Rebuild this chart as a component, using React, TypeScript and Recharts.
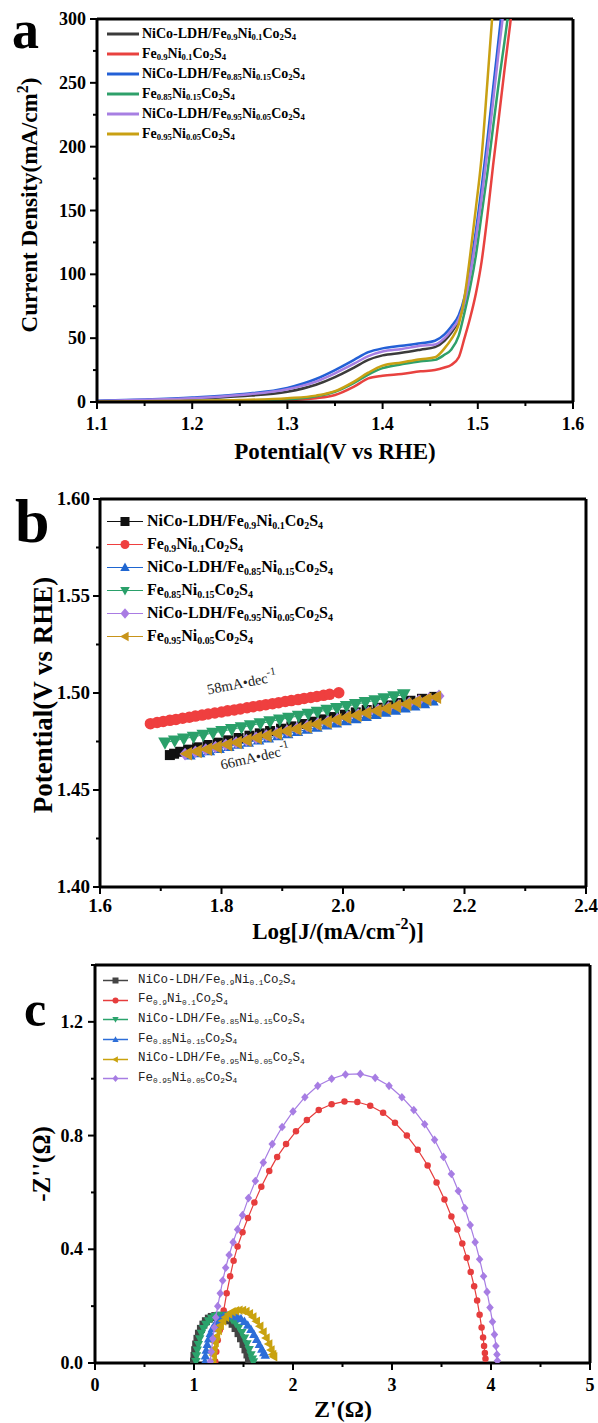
import React from 'react';
import {
  LineChart, Line, XAxis, YAxis, ReferenceLine, Legend,
  ScatterChart, Scatter, ReferenceDot,
} from 'recharts';

const SERIF = '"Liberation Serif", "Times New Roman", serif';
const MONO = '"Liberation Mono", "Courier New", monospace';

// ---------------- Panel a : LSV ----------------
const lsvPotential = [1.10, 1.15, 1.20, 1.25, 1.30, 1.33, 1.35, 1.37, 1.385, 1.40, 1.42, 1.44, 1.455, 1.465, 1.472, 1.48, 1.486, 1.492, 1.498, 1.504, 1.51, 1.516, 1.522, 1.528, 1.534, 1.54];
const lsvLdh09 = [0.6, 1.3, 2.5, 4.5, 8, 13.5, 19.5, 27, 33, 36.5, 38.5, 41, 43, 48, 54, 64, 78, 101, 130, 163, 200, 240, 280, 318, 355, 395];
const lsvFe09 = [0.1, 0.3, 0.5, 0.8, 1.5, 3, 5.5, 12, 18.5, 20.5, 22, 24, 25, 27, 29, 35, 50, 66, 85, 110, 145, 185, 222, 260, 296, 335];
const lsvLdh085 = [1, 2, 3.5, 6, 11, 18, 25, 33, 39, 42, 44, 46, 48, 53, 59, 68, 82, 106, 134, 168, 205, 245, 285, 325, 360, 400];
const lsvFe085 = [0.2, 0.4, 0.8, 1.2, 2.2, 4.5, 8, 15, 21.5, 26.5, 29.5, 32, 33, 37, 41, 52, 70, 90, 115, 147, 179, 215, 250, 282, 315, 350];
const lsvLdh095 = [0.8, 1.7, 3, 5.5, 10, 16, 22.5, 30, 36, 39.5, 41.5, 44, 45, 50, 56, 65, 78, 100, 128, 160, 196, 235, 275, 312, 350, 390];
const lsvFe095 = [0.3, 0.5, 1, 1.5, 3, 5, 8.5, 16, 23, 28.5, 31, 33.5, 35, 42, 49, 61, 82, 115, 152, 192, 250, 310, 360, 400, 440, 480];

const lsvNames = ['NiCo-LDH/Fe0.9Ni0.1Co2S4', 'Fe0.9Ni0.1Co2S4', 'NiCo-LDH/Fe0.85Ni0.15Co2S4', 'Fe0.85Ni0.15Co2S4', 'NiCo-LDH/Fe0.95Ni0.05Co2S4', 'Fe0.95Ni0.05Co2S4'];
const lsvColors = ['#3b3b3b', '#e8423f', '#2360d6', '#2fa06a', '#a77fe2', '#c9a013'];
const lsvCurves = [lsvLdh09, lsvFe09, lsvLdh085, lsvFe085, lsvLdh095, lsvFe095];

const aXTicks = [1.1, 1.15, 1.2, 1.25, 1.3, 1.35, 1.4, 1.45, 1.5, 1.55, 1.6];
const aXMajor = [1.1, 1.2, 1.3, 1.4, 1.5, 1.6];
const aYTicks = [0, 25, 50, 75, 100, 125, 150, 175, 200, 225, 250, 275, 300];
const aYMajor = [0, 50, 100, 150, 200, 250, 300];

// ---------------- Panel b : Tafel ----------------
const tafelLdh09X = [1.715, 1.722, 1.732, 1.745, 1.760, 1.777, 1.794, 1.811, 1.828, 1.846, 1.863, 1.880, 1.898, 1.915, 1.933, 1.950, 1.968, 1.985, 2.003, 2.021, 2.039, 2.057, 2.075, 2.093, 2.111, 2.130, 2.150];
const tafelLdh09Y = [1.4680, 1.4687, 1.4697, 1.4708, 1.4720, 1.4732, 1.4744, 1.4756, 1.4768, 1.4780, 1.4792, 1.4804, 1.4816, 1.4828, 1.4840, 1.4852, 1.4864, 1.4876, 1.4888, 1.4900, 1.4912, 1.4924, 1.4936, 1.4948, 1.4960, 1.4970, 1.4980];
const tafelFe09X = [1.683, 1.694, 1.704, 1.715, 1.725, 1.736, 1.747, 1.757, 1.768, 1.778, 1.789, 1.800, 1.810, 1.821, 1.831, 1.842, 1.852, 1.863, 1.873, 1.884, 1.894, 1.905, 1.915, 1.926, 1.936, 1.947, 1.957, 1.968, 1.978, 1.993];
const tafelFe09Y = [1.4842, 1.4848, 1.4853, 1.4859, 1.4864, 1.4870, 1.4875, 1.4881, 1.4886, 1.4892, 1.4897, 1.4902, 1.4908, 1.4913, 1.4918, 1.4924, 1.4929, 1.4934, 1.4940, 1.4945, 1.4950, 1.4956, 1.4961, 1.4966, 1.4972, 1.4977, 1.4982, 1.4988, 1.4993, 1.5001];
const tafelLdh085X = [1.748, 1.764, 1.780, 1.796, 1.812, 1.828, 1.844, 1.861, 1.877, 1.893, 1.909, 1.925, 1.941, 1.957, 1.973, 1.989, 2.005, 2.021, 2.038, 2.054, 2.070, 2.086, 2.102, 2.118, 2.134, 2.148];
const tafelLdh085Y = [1.4680, 1.4691, 1.4702, 1.4713, 1.4724, 1.4735, 1.4746, 1.4757, 1.4768, 1.4779, 1.4790, 1.4801, 1.4812, 1.4823, 1.4834, 1.4845, 1.4856, 1.4867, 1.4878, 1.4889, 1.4900, 1.4911, 1.4922, 1.4933, 1.4944, 1.4958];
const tafelFe085X = [1.707, 1.723, 1.738, 1.754, 1.770, 1.786, 1.801, 1.817, 1.833, 1.848, 1.864, 1.880, 1.896, 1.911, 1.927, 1.943, 1.958, 1.974, 1.990, 2.006, 2.021, 2.037, 2.053, 2.068, 2.084, 2.100];
const tafelFe085Y = [1.4744, 1.4754, 1.4764, 1.4774, 1.4784, 1.4794, 1.4803, 1.4813, 1.4823, 1.4833, 1.4843, 1.4853, 1.4863, 1.4872, 1.4882, 1.4892, 1.4902, 1.4912, 1.4922, 1.4932, 1.4942, 1.4952, 1.4962, 1.4972, 1.4982, 1.4992];
const tafelLdh095X = [1.740, 1.757, 1.774, 1.790, 1.807, 1.824, 1.841, 1.857, 1.874, 1.891, 1.908, 1.924, 1.941, 1.958, 1.975, 1.991, 2.008, 2.025, 2.042, 2.058, 2.075, 2.092, 2.109, 2.125, 2.142, 2.158];
const tafelLdh095Y = [1.4685, 1.4697, 1.4709, 1.4721, 1.4733, 1.4745, 1.4757, 1.4769, 1.4781, 1.4793, 1.4805, 1.4817, 1.4829, 1.4841, 1.4853, 1.4865, 1.4877, 1.4889, 1.4901, 1.4913, 1.4925, 1.4937, 1.4949, 1.4961, 1.4973, 1.4985];
const tafelFe095X = [1.743, 1.759, 1.776, 1.792, 1.809, 1.825, 1.841, 1.858, 1.874, 1.891, 1.907, 1.923, 1.940, 1.956, 1.973, 1.989, 2.005, 2.022, 2.038, 2.055, 2.071, 2.087, 2.104, 2.120, 2.137, 2.153];
const tafelFe095Y = [1.4687, 1.4699, 1.4710, 1.4722, 1.4734, 1.4745, 1.4757, 1.4769, 1.4780, 1.4792, 1.4804, 1.4815, 1.4827, 1.4839, 1.4850, 1.4862, 1.4874, 1.4885, 1.4897, 1.4908, 1.4920, 1.4932, 1.4943, 1.4955, 1.4967, 1.4978];

const tafelColors = ['#111111', '#ef3f3f', '#1f66d1', '#2aa06a', '#a97be3', '#c8941a'];
const tafelMarkers = ['square', 'circle', 'up', 'down', 'diamond', 'left'];
const tafelSizes = [10, 11.5, 11, 13, 11, 13];
const tafelXs = [tafelLdh09X, tafelFe09X, tafelLdh085X, tafelFe085X, tafelLdh095X, tafelFe095X];
const tafelYs = [tafelLdh09Y, tafelFe09Y, tafelLdh085Y, tafelFe085Y, tafelLdh095Y, tafelFe095Y];
const tafelNotes = ['58mA\u2022dec', '66mA\u2022dec'];

const bXTicks = [1.6, 1.7, 1.8, 1.9, 2.0, 2.1, 2.2, 2.3, 2.4];
const bXMajor = [1.6, 1.8, 2.0, 2.2, 2.4];
const bYTicks = [1.4, 1.425, 1.45, 1.475, 1.5, 1.525, 1.55, 1.575, 1.6];
const bYMajor = [1.4, 1.45, 1.5, 1.55, 1.6];

// ---------------- Panel c : Nyquist ----------------
const eisLdh09X = [1.00, 1.005, 1.012, 1.022, 1.035, 1.05, 1.07, 1.095, 1.12, 1.15, 1.18, 1.215, 1.25, 1.285, 1.32, 1.355, 1.39, 1.42, 1.45, 1.475, 1.5, 1.52, 1.54, 1.555, 1.565];
const eisLdh09Y = [0.005, 0.025, 0.045, 0.065, 0.085, 0.103, 0.12, 0.135, 0.147, 0.156, 0.162, 0.165, 0.166, 0.164, 0.159, 0.15, 0.138, 0.123, 0.105, 0.087, 0.067, 0.048, 0.03, 0.015, 0.005];
const eisFe09X = [1.215, 1.225, 1.24, 1.26, 1.28, 1.30, 1.33, 1.365, 1.40, 1.44, 1.49, 1.545, 1.61, 1.68, 1.76, 1.84, 1.93, 2.03, 2.14, 2.26, 2.39, 2.52, 2.65, 2.78, 2.91, 3.03, 3.15, 3.26, 3.36, 3.45, 3.53, 3.60, 3.66, 3.71, 3.755, 3.795, 3.83, 3.86, 3.885, 3.905, 3.92, 3.93, 3.938, 3.944];
const eisFe09Y = [0.005, 0.04, 0.08, 0.115, 0.15, 0.185, 0.245, 0.305, 0.36, 0.41, 0.46, 0.51, 0.565, 0.62, 0.675, 0.725, 0.77, 0.815, 0.855, 0.89, 0.91, 0.92, 0.918, 0.905, 0.88, 0.845, 0.80, 0.75, 0.695, 0.635, 0.575, 0.515, 0.47, 0.42, 0.37, 0.32, 0.27, 0.22, 0.17, 0.125, 0.09, 0.06, 0.035, 0.015];
const eisLdh085X = [1.02, 1.025, 1.033, 1.044, 1.058, 1.075, 1.095, 1.12, 1.147, 1.177, 1.21, 1.245, 1.28, 1.315, 1.35, 1.385, 1.42, 1.453, 1.483, 1.51, 1.535, 1.557, 1.576, 1.59, 1.6];
const eisLdh085Y = [0.005, 0.025, 0.045, 0.065, 0.085, 0.104, 0.121, 0.136, 0.148, 0.157, 0.163, 0.167, 0.168, 0.166, 0.161, 0.152, 0.14, 0.125, 0.107, 0.088, 0.067, 0.047, 0.029, 0.014, 0.004];
const eisFe085X = [1.11, 1.115, 1.123, 1.134, 1.148, 1.165, 1.185, 1.21, 1.238, 1.268, 1.30, 1.335, 1.37, 1.405, 1.44, 1.475, 1.51, 1.543, 1.575, 1.605, 1.633, 1.66, 1.685, 1.705, 1.72];
const eisFe085Y = [0.005, 0.025, 0.045, 0.065, 0.085, 0.104, 0.121, 0.136, 0.148, 0.157, 0.163, 0.166, 0.168, 0.167, 0.163, 0.156, 0.146, 0.133, 0.118, 0.101, 0.083, 0.065, 0.049, 0.036, 0.028];
const eisLdh095X = [1.19, 1.195, 1.203, 1.214, 1.228, 1.245, 1.266, 1.29, 1.318, 1.35, 1.385, 1.42, 1.455, 1.49, 1.525, 1.56, 1.595, 1.63, 1.665, 1.698, 1.728, 1.755, 1.778, 1.795, 1.805];
const eisLdh095Y = [0.005, 0.028, 0.05, 0.072, 0.094, 0.114, 0.132, 0.148, 0.161, 0.172, 0.18, 0.184, 0.186, 0.185, 0.181, 0.173, 0.162, 0.147, 0.129, 0.109, 0.088, 0.067, 0.046, 0.03, 0.022];
const eisFe095X = [1.165, 1.175, 1.19, 1.205, 1.22, 1.24, 1.265, 1.29, 1.32, 1.355, 1.395, 1.44, 1.49, 1.55, 1.62, 1.70, 1.79, 1.89, 2.00, 2.12, 2.25, 2.39, 2.53, 2.68, 2.83, 2.97, 3.10, 3.22, 3.33, 3.43, 3.52, 3.60, 3.67, 3.735, 3.79, 3.84, 3.885, 3.925, 3.96, 3.99, 4.015, 4.035, 4.05, 4.06, 4.065];
const eisFe095Y = [0.005, 0.04, 0.085, 0.125, 0.16, 0.2, 0.245, 0.29, 0.335, 0.38, 0.425, 0.47, 0.52, 0.58, 0.64, 0.705, 0.77, 0.83, 0.885, 0.935, 0.975, 1.0, 1.015, 1.017, 1.003, 0.975, 0.935, 0.89, 0.84, 0.785, 0.725, 0.665, 0.605, 0.545, 0.485, 0.425, 0.365, 0.305, 0.25, 0.195, 0.145, 0.1, 0.06, 0.03, 0.008];

const eisNames = ['NiCo-LDH/Fe0.9Ni0.1Co2S4', 'Fe0.9Ni0.1Co2S4', 'NiCo-LDH/Fe0.85Ni0.15Co2S4', 'Fe0.85Ni0.15Co2S4', 'NiCo-LDH/Fe0.95Ni0.05Co2S4', 'Fe0.95Ni0.05Co2S4'];
const eisColors = ['#444444', '#e63d3d', '#2ba36c', '#2d6ed8', '#c9a20e', '#a77de3'];
const eisMarkers = ['square', 'circle', 'down', 'up', 'left', 'diamond'];
const eisSizes = [8, 6.5, 9, 9, 9, 7.5];
const eisXs = [eisLdh09X, eisFe09X, eisLdh085X, eisFe085X, eisLdh095X, eisFe095X];
const eisYs = [eisLdh09Y, eisFe09Y, eisLdh085Y, eisFe085Y, eisLdh095Y, eisFe095Y];

const cXTicks = [0, 0.5, 1, 1.5, 2, 2.5, 3, 3.5, 4, 4.5, 5];
const cXMajor = [0, 1, 2, 3, 4, 5];
const cYTicks = [0, 0.2, 0.4, 0.6, 0.8, 1.0, 1.2, 1.4];
const cYMajor = [0, 0.4, 0.8, 1.2];

// ---------------- helpers ----------------
const AXIS_LINE = { stroke: '#000', strokeWidth: 3 };

function Formula({ text }: { text: string }) {
  const parts = text.split(/(\d+(?:\.\d+)?)/);
  return (
    <>
      {parts.map((p, i) =>
        i % 2 === 1 ? (
          <span key={i} style={{ fontSize: '0.62em', position: 'relative', top: '0.32em' }}>{p}</span>
        ) : (
          <span key={i}>{p}</span>
        ),
      )}
    </>
  );
}

function Marker({ kind, cx, cy, s, color }: any) {
  if (cx == null || cy == null) return null;
  const h = s / 2;
  switch (kind) {
    case 'square':
      return <rect x={cx - h} y={cy - h} width={s} height={s} fill={color} />;
    case 'circle':
      return <circle cx={cx} cy={cy} r={h} fill={color} />;
    case 'up':
      return <polygon points={`${cx},${cy - h * 1.1} ${cx + h * 1.05},${cy + h * 0.8} ${cx - h * 1.05},${cy + h * 0.8}`} fill={color} />;
    case 'down':
      return <polygon points={`${cx},${cy + h * 1.1} ${cx + h * 1.05},${cy - h * 0.8} ${cx - h * 1.05},${cy - h * 0.8}`} fill={color} />;
    case 'diamond':
      return <polygon points={`${cx},${cy - h * 1.15} ${cx + h},${cy} ${cx},${cy + h * 1.15} ${cx - h},${cy}`} fill={color} />;
    case 'left':
      return <polygon points={`${cx - h * 1.1},${cy} ${cx + h * 0.8},${cy - h * 1.05} ${cx + h * 0.8},${cy + h * 1.05}`} fill={color} />;
    default:
      return null;
  }
}

function AxisTick(props: any) {
  const { x, y, payload, orient, majors, digits, gap, fs } = props;
  const v = Number(payload?.value);
  const major = majors.some((m: number) => Math.abs(m - v) < 1e-6);
  const style: React.CSSProperties = { fontFamily: SERIF, fontWeight: 700, fontSize: fs || 18, fill: '#000' };
  if (orient === 'bottom') {
    return (
      <g>
        <line x1={x} y1={y} x2={x} y2={y + (major ? 7 : 4)} stroke="#000" strokeWidth={2} />
        {major ? <text x={x} y={y + gap} textAnchor="middle" style={style}>{v.toFixed(digits)}</text> : null}
      </g>
    );
  }
  return (
    <g>
      <line x1={x} y1={y} x2={x - (major ? 7 : 4)} y2={y} stroke="#000" strokeWidth={2} />
      {major ? <text x={x - gap} y={y + 6} textAnchor="end" style={style}>{v.toFixed(digits)}</text> : null}
    </g>
  );
}

function TitleX({ tcx, tbase, tfs, ttl }: any) {
  return (
    <text x={tcx} y={tbase} textAnchor="middle" style={{ fontFamily: SERIF, fontWeight: 700, fontSize: tfs, fill: '#000' }}>
      {ttl}
    </text>
  );
}

function TitleY({ tbx, tcy, tfs, ttl }: any) {
  return (
    <text x={tbx} y={tcy} transform={`rotate(-90 ${tbx} ${tcy})`} textAnchor="middle" style={{ fontFamily: SERIF, fontWeight: 700, fontSize: tfs, fill: '#000' }}>
      {ttl}
    </text>
  );
}

function SlopeNote({ viewBox, note, rot }: any) {
  if (!viewBox) return null;
  const cx = viewBox.x + (viewBox.width || 0) / 2;
  const cy = viewBox.y + (viewBox.height || 0) / 2;
  return (
    <text x={cx} y={cy} textAnchor="middle" transform={`rotate(${rot} ${cx} ${cy})`} style={{ fontFamily: SERIF, fontSize: 14.5, fill: '#222' }}>
      {note}
      <tspan dy={-7} fontSize={11}>-1</tspan>
    </text>
  );
}

function LegendA() {
  return (
    <div style={{ fontFamily: SERIF, fontWeight: 700, fontSize: 14, color: '#000' }}>
      {lsvNames.map((n, i) => (
        <div key={n} style={{ height: 20, display: 'flex', alignItems: 'center', whiteSpace: 'nowrap' }}>
          <svg width={34} height={20} style={{ flex: 'none' }}>
            <line x1={1} y1={10} x2={33} y2={10} stroke={lsvColors[i]} strokeWidth={3} />
          </svg>
          <span style={{ marginLeft: 2, lineHeight: '20px' }}><Formula text={n} /></span>
        </div>
      ))}
    </div>
  );
}

function LegendB() {
  return (
    <div style={{ fontFamily: SERIF, fontWeight: 700, fontSize: 16, color: '#000' }}>
      {lsvNames.map((n, i) => (
        <div key={n} style={{ height: 23, display: 'flex', alignItems: 'center', whiteSpace: 'nowrap' }}>
          <svg width={38} height={23} style={{ flex: 'none' }}>
            <line x1={1} y1={11.5} x2={37} y2={11.5} stroke={tafelColors[i]} strokeWidth={1} />
            <Marker kind={tafelMarkers[i]} cx={19} cy={11.5} s={9} color={tafelColors[i]} />
          </svg>
          <span style={{ marginLeft: 3, lineHeight: '23px' }}><Formula text={n} /></span>
        </div>
      ))}
    </div>
  );
}

function LegendC() {
  return (
    <div style={{ fontFamily: MONO, fontSize: 12.5, color: '#222' }}>
      {eisNames.map((n, i) => (
        <div key={n} style={{ height: 19.6, display: 'flex', alignItems: 'center', whiteSpace: 'nowrap' }}>
          <svg width={27} height={19} style={{ flex: 'none' }}>
            <line x1={1} y1={9.5} x2={26} y2={9.5} stroke={eisColors[i]} strokeWidth={1.5} />
            <Marker kind={eisMarkers[i]} cx={13.5} cy={9.5} s={6} color={eisColors[i]} />
          </svg>
          <span style={{ marginLeft: 9, lineHeight: '19px' }}><Formula text={n} /></span>
        </div>
      ))}
    </div>
  );
}

// ---------------- panels ----------------
function PanelA() {
  const rows = lsvPotential.map((v, i) => {
    const r: any = { v };
    lsvCurves.forEach((c, k) => { r['s' + k] = c[i]; });
    return r;
  });
  return (
    <LineChart width={598} height={470} data={rows} margin={{ top: 19, right: 25, left: 0, bottom: 0 }}>
      <XAxis
        dataKey="v" type="number" domain={[1.1, 1.6]} ticks={aXTicks} interval={0} allowDataOverflow
        height={68} tickSize={0} tickMargin={0} tickLine={false} axisLine={AXIS_LINE}
        tick={<AxisTick orient="bottom" majors={aXMajor} digits={1} gap={28} fs={18} />}
        label={<TitleX tcx={335} tbase={459} tfs={23} ttl="Potential(V vs RHE)" />}
      />
      <YAxis
        type="number" domain={[0, 300]} ticks={aYTicks} interval={0} allowDataOverflow
        width={97} tickSize={0} tickMargin={0} tickLine={false} axisLine={AXIS_LINE}
        tick={<AxisTick orient="left" majors={aYMajor} digits={0} gap={11} fs={18} />}
        label={<TitleY tbx={37} tcy={205} tfs={23} ttl={[
          'Current Density(mA/cm',
          <tspan key="s" dy={-9} fontSize={16}>2</tspan>,
          <tspan key="e" dy={9}>)</tspan>,
        ]} />}
      />
      <ReferenceLine y={300} stroke="#000" strokeWidth={3} />
      <ReferenceLine x={1.6} stroke="#000" strokeWidth={3} />
      {lsvNames.map((n, k) => (
        <Line key={n} dataKey={'s' + k} name={n} type="monotone" stroke={lsvColors[k]} strokeWidth={2.5} dot={false} isAnimationActive={false} />
      ))}
      <Legend
        layout="vertical" align="center" verticalAlign="middle"
        wrapperStyle={{ left: 106, top: 24, width: 'auto', height: 'auto' }}
        content={() => <LegendA />}
      />
    </LineChart>
  );
}

function PanelB() {
  return (
    <ScatterChart width={598} height={480} margin={{ top: 29, right: 12, left: 0, bottom: 0 }}>
      <XAxis
        dataKey="x" type="number" domain={[1.6, 2.4]} ticks={bXTicks} interval={0} allowDataOverflow
        height={63} tickSize={0} tickMargin={0} tickLine={false} axisLine={AXIS_LINE}
        tick={<AxisTick orient="bottom" majors={bXMajor} digits={1} gap={25} fs={19} />}
        label={<TitleX tcx={338} tbase={469} tfs={23} ttl={[
          'Log[J/(mA/cm',
          <tspan key="s" dy={-10} fontSize={16}>-2</tspan>,
          <tspan key="e" dy={10}>)]</tspan>,
        ]} />}
      />
      <YAxis
        dataKey="y" type="number" domain={[1.4, 1.6]} ticks={bYTicks} interval={0} allowDataOverflow
        width={100} tickSize={0} tickMargin={0} tickLine={false} axisLine={AXIS_LINE}
        tick={<AxisTick orient="left" majors={bYMajor} digits={2} gap={10} fs={19} />}
        label={<TitleY tbx={52} tcy={225} tfs={27} ttl="Potential(V vs RHE)" />}
      />
      <ReferenceLine y={1.6} stroke="#000" strokeWidth={3} />
      <ReferenceLine x={2.4} stroke="#000" strokeWidth={3} />
      {lsvNames.map((n, k) => (
        <Scatter
          key={n} name={n}
          data={tafelXs[k].map((x, i) => ({ x, y: tafelYs[k][i] }))}
          fill={tafelColors[k]}
          line={{ stroke: tafelColors[k], strokeWidth: 1 }} lineType="joint"
          shape={(p: any) => <Marker kind={tafelMarkers[k]} cx={p.cx} cy={p.cy} s={tafelSizes[k]} color={tafelColors[k]} />}
          isAnimationActive={false}
        />
      ))}
      <ReferenceDot x={1.835} y={1.5027} r={1} fill="none" stroke="none" label={<SlopeNote note={tafelNotes[0]} rot={-11} />} />
      <ReferenceDot x={1.857} y={1.4645} r={1} fill="none" stroke="none" label={<SlopeNote note={tafelNotes[1]} rot={-13} />} />
      <Legend
        layout="vertical" align="center" verticalAlign="middle"
        wrapperStyle={{ left: 106, top: 40, width: 'auto', height: 'auto' }}
        content={() => <LegendB />}
      />
    </ScatterChart>
  );
}

function PanelC() {
  return (
    <ScatterChart width={598} height={483} margin={{ top: 25, right: 8, left: 0, bottom: 0 }}>
      <XAxis
        dataKey="x" type="number" domain={[0, 5]} ticks={cXTicks} interval={0} allowDataOverflow
        height={60} tickSize={0} tickMargin={0} tickLine={false} axisLine={AXIS_LINE}
        tick={<AxisTick orient="bottom" majors={cXMajor} digits={0} gap={28} fs={18} />}
        label={<TitleX tcx={343} tbase={477} tfs={24} ttl="Z'(Ω)" />}
      />
      <YAxis
        dataKey="y" type="number" domain={[0, 1.4]} ticks={cYTicks} interval={0} allowDataOverflow
        width={95} tickSize={0} tickMargin={0} tickLine={false} axisLine={AXIS_LINE}
        tick={<AxisTick orient="left" majors={cYMajor} digits={1} gap={12} fs={18} />}
        label={<TitleY tbx={50} tcy={224} tfs={25} ttl="-Z''(Ω)" />}
      />
      <ReferenceLine y={1.4} stroke="#000" strokeWidth={3} />
      <ReferenceLine x={5} stroke="#000" strokeWidth={3} />
      {eisNames.map((n, k) => (
        <Scatter
          key={n} name={n}
          data={eisXs[k].map((x, i) => ({ x, y: eisYs[k][i] }))}
          fill={eisColors[k]}
          line={{ stroke: eisColors[k], strokeWidth: 1.2 }} lineType="joint"
          shape={(p: any) => <Marker kind={eisMarkers[k]} cx={p.cx} cy={p.cy} s={eisSizes[k]} color={eisColors[k]} />}
          isAnimationActive={false}
        />
      ))}
      <Legend
        layout="vertical" align="center" verticalAlign="middle"
        wrapperStyle={{ left: 102, top: 31, width: 'auto', height: 'auto' }}
        content={() => <LegendC />}
      />
    </ScatterChart>
  );
}

const letter = (left: number, top: number, size: number): React.CSSProperties => ({
  position: 'absolute', left, top, fontFamily: SERIF, fontWeight: 700, fontSize: size, lineHeight: `${size}px`, color: '#000',
});

export default function App() {
  return (
    <div style={{ position: 'absolute', left: 0, top: 0, width: 598, height: 1423, background: '#fff', overflow: 'hidden' }}>
      <div style={{ position: 'absolute', left: 0, top: 0 }}><PanelA /></div>
      <div style={{ position: 'absolute', left: 0, top: 470 }}><PanelB /></div>
      <div style={{ position: 'absolute', left: 0, top: 940 }}><PanelC /></div>
      <div style={letter(12, 3, 54)}>a</div>
      <div style={letter(15, 490, 62)}>b</div>
      <div style={letter(24, 984, 50)}>c</div>
    </div>
  );
}
